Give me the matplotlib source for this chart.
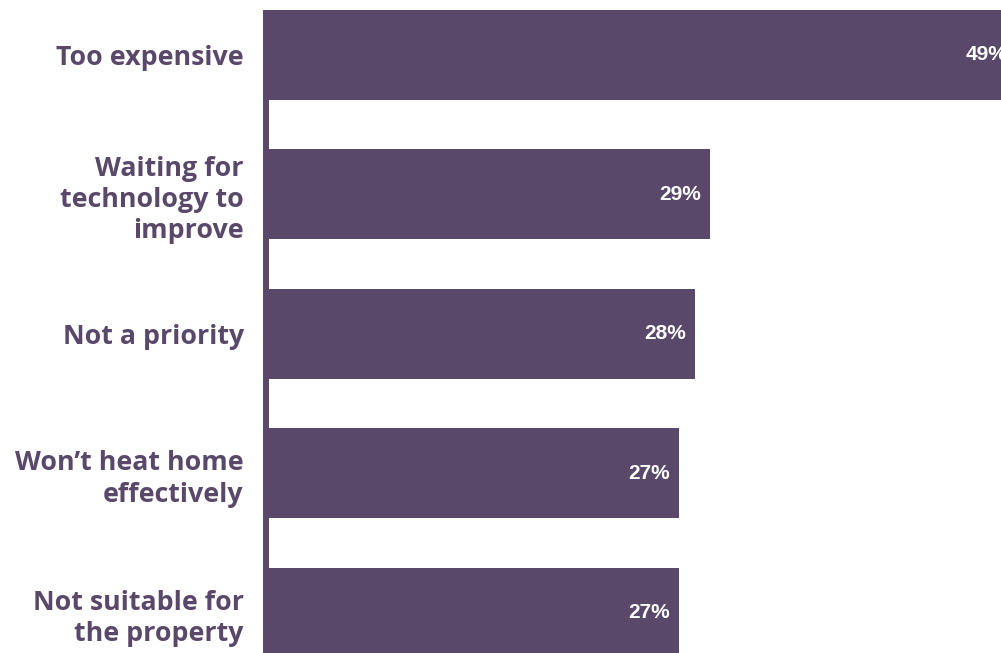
import matplotlib
matplotlib.use("Agg")
import matplotlib.pyplot as plt

categories = [
    "Too expensive",
    "Waiting for\ntechnology to\nimprove",
    "Not a priority",
    "Won\u2019t heat home\neffectively",
    "Not suitable for\nthe property",
]
values = [49, 29, 28, 27, 27]

PURPLE = "#5a486b"

fig = plt.figure(figsize=(10.01, 6.53), dpi=100)
ax = fig.add_axes([266 / 1001, 0, (1001 - 266) / 1001, (653 - 10) / 653])

pos = list(range(len(categories)))
ax.barh(pos, values, height=0.645, color=PURPLE, linewidth=0)

for y, v in zip(pos, values):
    ax.text(v - 0.6, y, f"{v}%", ha="right", va="center", color="white",
            fontsize=15, fontweight="bold", family="Liberation Sans")

ax.set_xlim(0, 48)
ax.set_ylim(4.29, -0.3225)
ax.set_yticks(pos)
ax.set_yticklabels(categories, fontsize=19.3, fontweight="bold",
                   family="Open Sans", color=PURPLE, linespacing=1.27)
ax.tick_params(axis="y", length=0, pad=16)
ax.set_xticks([])

for side in ("top", "right", "bottom"):
    ax.spines[side].set_visible(False)
ax.spines["left"].set_color(PURPLE)
ax.spines["left"].set_linewidth(4.3)
ax.spines["left"].set_capstyle("butt")

fig.savefig("out.png", dpi=100)
